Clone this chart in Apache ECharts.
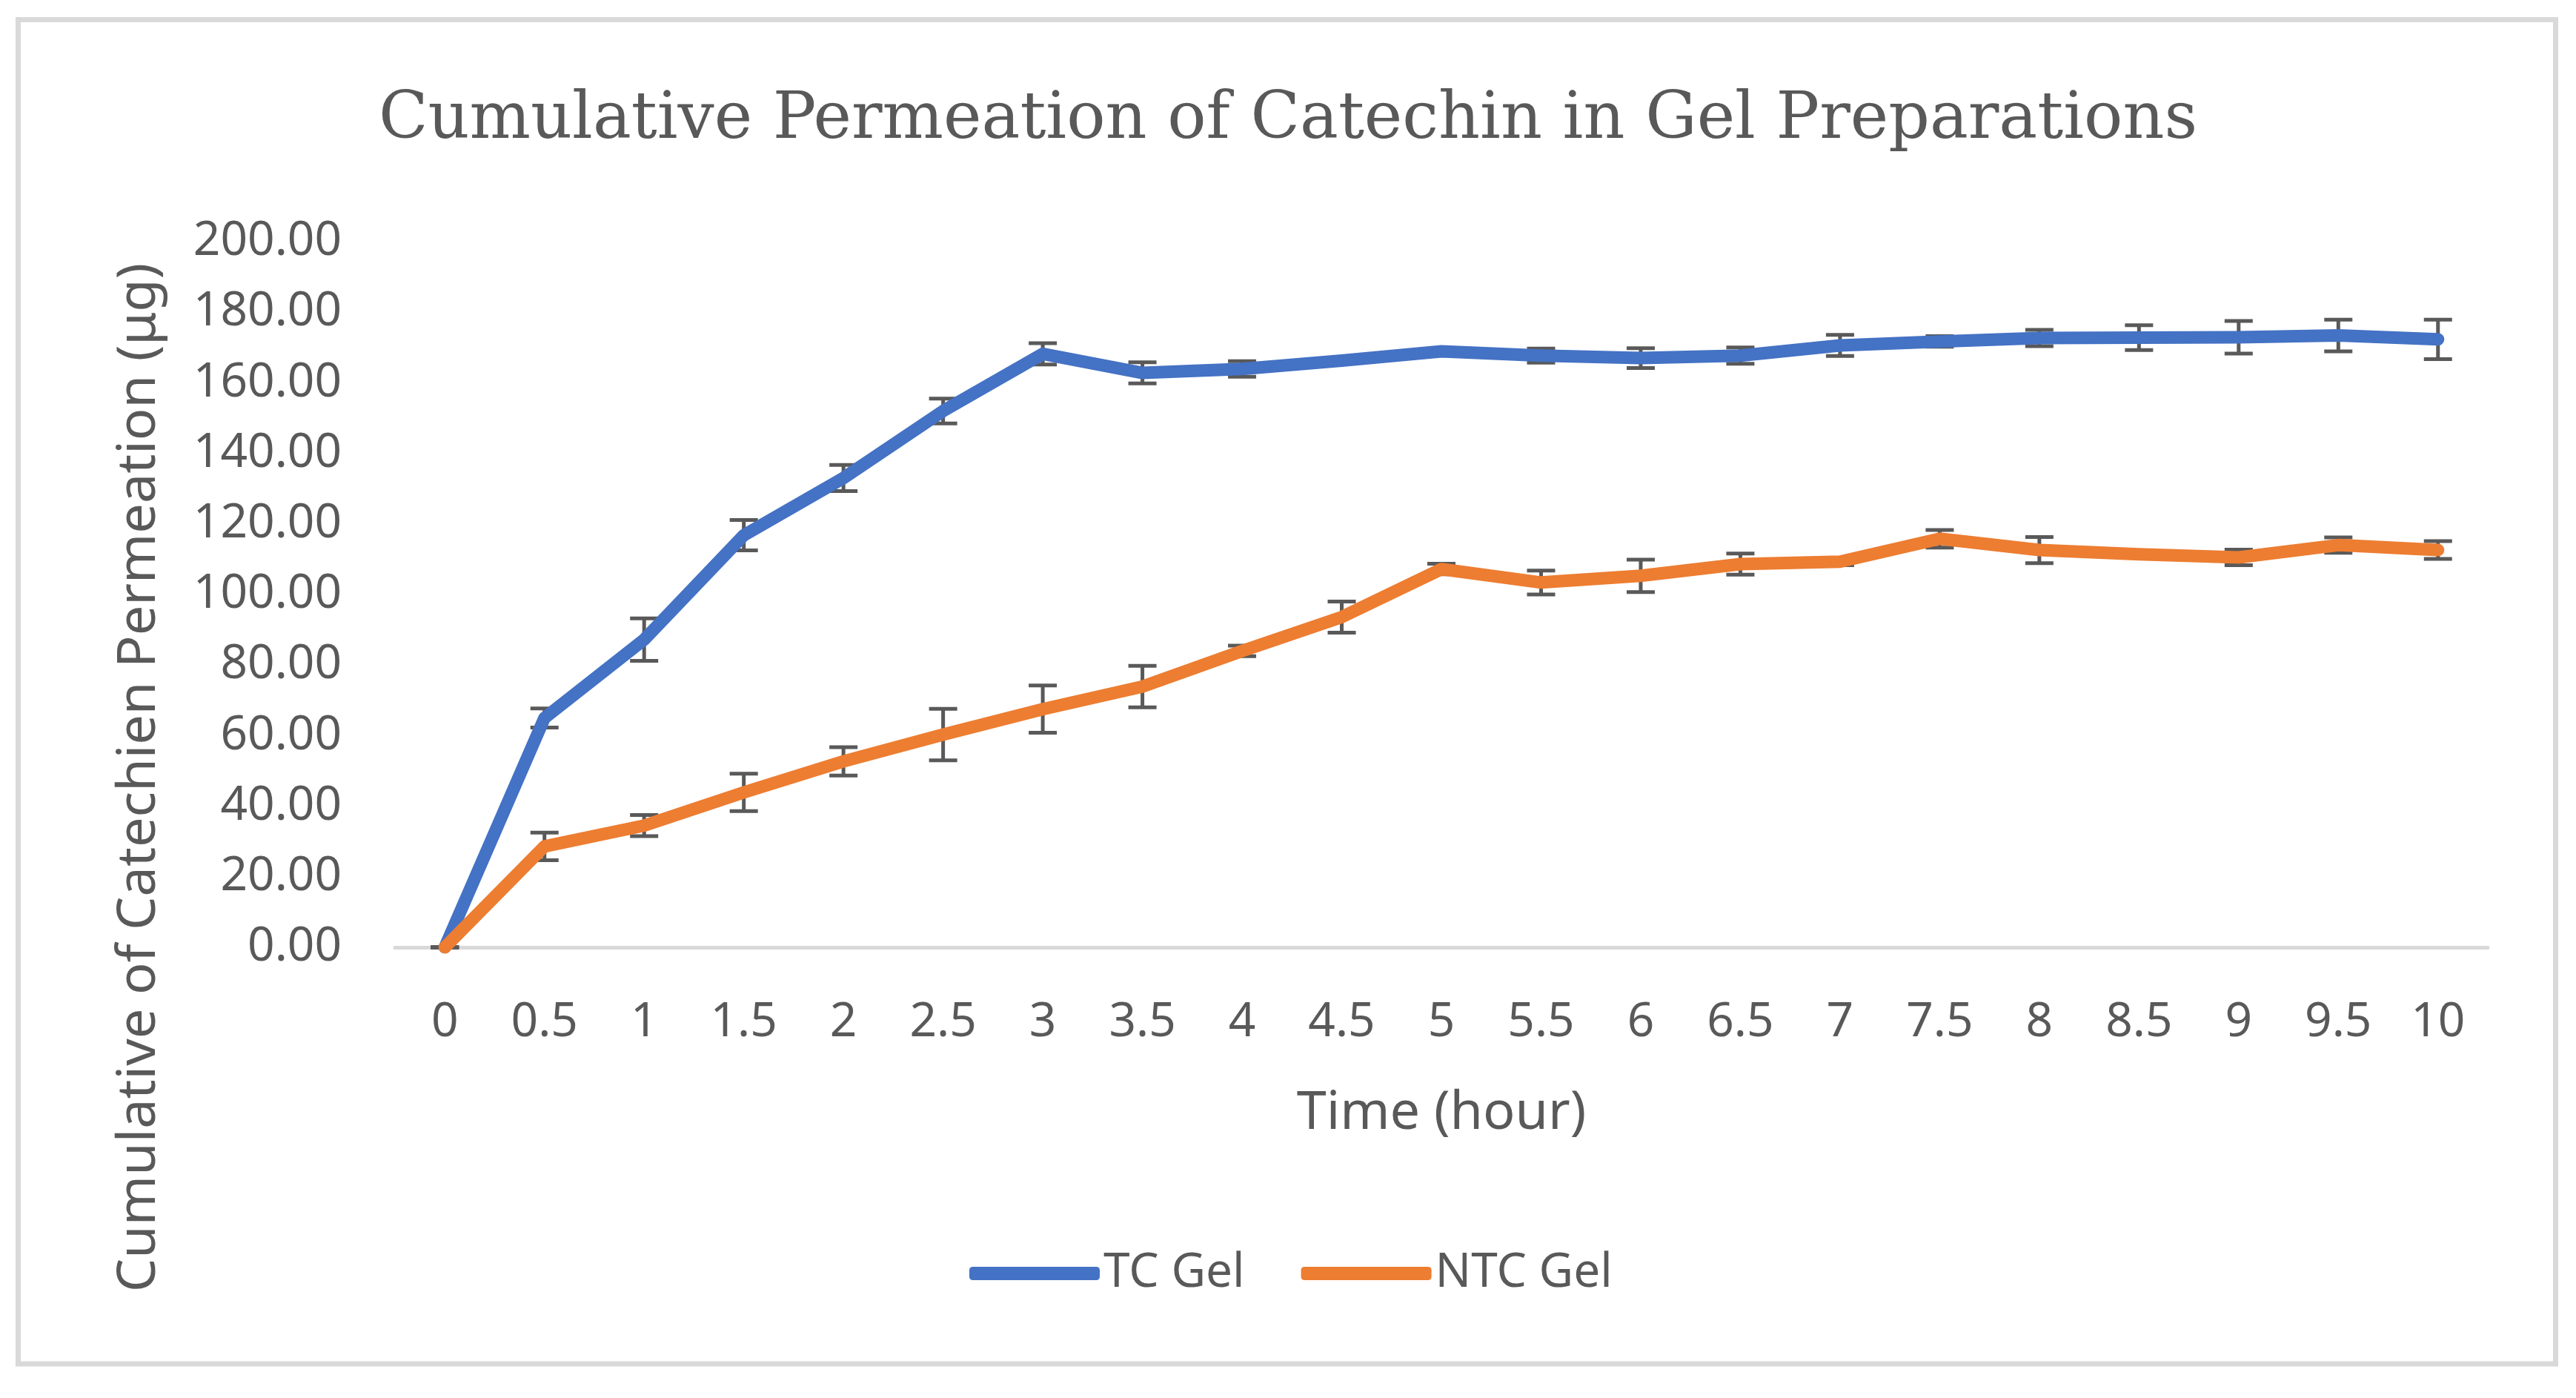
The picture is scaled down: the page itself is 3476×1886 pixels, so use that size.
<!DOCTYPE html>
<html>
<head>
<meta charset="utf-8">
<script src="https://cdn.jsdelivr.net/npm/echarts@6/dist/echarts.min.js"></script>
<style>
html,body{margin:0;padding:0;background:#fff;}
#chart{width:3476px;height:1886px;}
</style>
</head>
<body>
<div id="chart"></div>
<script>
const times = ['0','0.5','1','1.5','2','2.5','3','3.5','4','4.5','5','5.5','6','6.5','7','7.5','8','8.5','9','9.5','10'];
const tcGel  = [0, 65.0, 87.2, 116.8, 133.0, 152.0, 168.2, 162.8, 163.9, 166.3, 168.9, 167.7, 167.0, 167.7, 170.6, 171.7, 172.7, 172.8, 172.9, 173.4, 172.3];
const tcErr  = [0, 2.7, 6.0, 4.3, 3.7, 3.5, 3.0, 3.0, 2.2, 0.5, 0.5, 2.0, 2.8, 2.3, 3.0, 1.5, 2.3, 3.5, 4.6, 4.5, 5.6];
const ntcGel = [0, 28.6, 34.5, 43.9, 52.7, 60.3, 67.5, 73.9, 84.0, 93.6, 107.2, 103.4, 105.3, 108.6, 109.3, 115.8, 112.6, 111.4, 110.5, 114.0, 112.6];
const ntcErr = [0, 3.9, 3.0, 5.3, 4.0, 7.3, 6.7, 5.9, 1.5, 4.4, 1.5, 3.4, 4.6, 3.0, 1.0, 2.5, 3.7, 1.0, 2.2, 2.2, 2.5];
const seriesNames = ['TC Gel', 'NTC Gel'];
const yTicks = {min: 0, max: 200, interval: 20};
const chartTitle = 'Cumulative Permeation of Catechin in Gel Preparations';
const xName = 'Time (hour)';
const yName = 'Cumulative of Catechien Permeation (μg)';

const textColor = '#595959';
const sans = '"Noto Sans", "Open Sans", sans-serif';

function errData(vals, errs){
  return vals.map((v,i)=>[i, v - errs[i], v + errs[i]]);
}
function renderErr(params, api){
  const x = api.value(0);
  const lo = api.coord([x, api.value(1)]);
  const hi = api.coord([x, api.value(2)]);
  const half = 19;
  const st = {stroke: '#595959', lineWidth: 5};
  return {type:'group', children:[
    {type:'line', shape:{x1:hi[0], y1:hi[1], x2:lo[0], y2:lo[1]}, style: st},
    {type:'line', shape:{x1:hi[0]-half, y1:hi[1], x2:hi[0]+half, y2:hi[1]}, style: st},
    {type:'line', shape:{x1:lo[0]-half, y1:lo[1], x2:lo[0]+half, y2:lo[1]}, style: st}
  ]};
}

const chart = echarts.init(document.getElementById('chart'));
chart.setOption({
  backgroundColor: '#ffffff',
  animation: false,
  title: {
    text: chartTitle,
    left: 'center',
    top: 115,
    textStyle: {fontFamily: '"DejaVu Serif", "Liberation Serif", serif', fontSize: 87, fontWeight: 'normal', color: textColor}
  },
  legend: {
    data: seriesNames,
    left: 1308,
    top: 1686,
    padding: 0,
    itemWidth: 176,
    itemHeight: 18,
    itemGap: 76,
    icon: 'roundRect',
    textStyle: {fontFamily: sans, fontSize: 64, color: textColor}
  },
  grid: {left: 533, right: 119, top: 326, bottom: 608, containLabel: false},
  xAxis: {
    type: 'category',
    data: times,
    boundaryGap: true,
    name: xName,
    nameLocation: 'middle',
    nameGap: 188,
    nameTextStyle: {fontFamily: sans, fontSize: 72, color: textColor},
    axisLine: {show: true, lineStyle: {color: '#D9D9D9', width: 5}},
    axisTick: {show: false},
    axisLabel: {fontFamily: sans, fontSize: 64, color: textColor, margin: 70, interval: 0},
    splitLine: {show: false}
  },
  yAxis: {
    type: 'value',
    min: yTicks.min,
    max: yTicks.max,
    interval: yTicks.interval,
    axisLine: {show: false},
    axisTick: {show: false},
    splitLine: {show: false},
    axisLabel: {fontFamily: sans, fontSize: 64, color: textColor, margin: 72, formatter: v => v.toFixed(2)}
  },
  graphic: [
    {type: 'rect', z: -10, shape: {x: 24.5, y: 26.5, width: 3424, height: 1813.5}, style: {fill: 'none', stroke: '#D9D9D9', lineWidth: 7}},
    {type: 'text', x: 188, y: 1049, rotation: Math.PI/2,
      style: {text: yName, fontFamily: sans, fontSize: 72, fill: textColor, align: 'center', verticalAlign: 'middle'}}
  ],
  series: [
    {type:'custom', name:'tcErr', renderItem: renderErr, data: errData(tcGel, tcErr), encode:{x:0, y:[1,2]}, z: 1, silent: true},
    {type:'custom', name:'ntcErr', renderItem: renderErr, data: errData(ntcGel, ntcErr), encode:{x:0, y:[1,2]}, z: 1, silent: true},
    {type:'line', name: seriesNames[0], data: tcGel, showSymbol: false, symbol: 'none', z: 3,
      itemStyle: {color: '#4472C4'}, lineStyle: {color: '#4472C4', width: 17, cap: 'round', join: 'round'}},
    {type:'line', name: seriesNames[1], data: ntcGel, showSymbol: false, symbol: 'none', z: 4,
      itemStyle: {color: '#ED7D31'}, lineStyle: {color: '#ED7D31', width: 17, cap: 'round', join: 'round'}}
  ]
});
</script>
</body>
</html>
